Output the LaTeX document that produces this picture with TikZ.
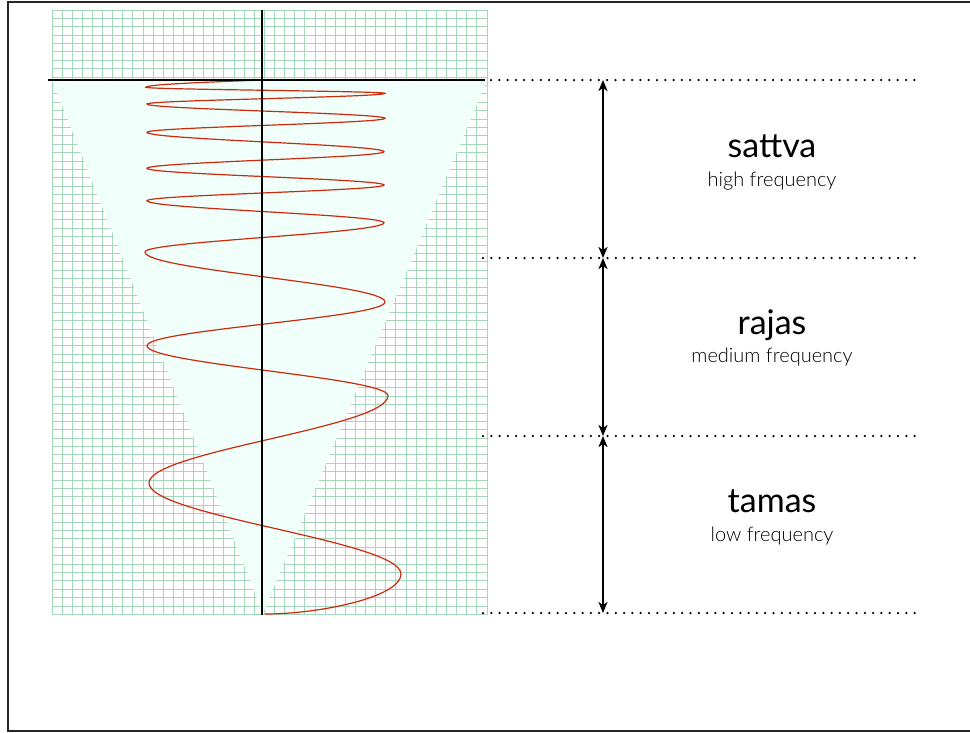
\documentclass[tikz,border=0pt]{standalone}
\usepackage{fontspec}
\setmainfont{Lato}
\IfFontExistsTF{Lato Light}{\newfontfamily\thinfont{Lato Light}}{\newfontfamily\thinfont{Lato}}
\usetikzlibrary{arrows.meta}
\definecolor{gridgreen}{RGB}{164,216,186}
\definecolor{conefill}{RGB}{240,255,250}
\definecolor{wavered}{RGB}{204,42,12}
\tikzset{
  frameline/.style={line width=1.3pt, draw=black!85},
  gridline/.style={line width=1pt, draw=gridgreen},
  axisline/.style={line width=2pt, draw=black},
  waveline/.style={line width=1.2pt, draw=wavered},
  guide/.style={line width=2.5pt, dash pattern=on 0pt off 8.3pt, line cap=round},
  span/.style={line width=2pt, {Stealth[length=11pt,width=9pt,inset=3pt]}-{Stealth[length=11pt,width=9pt,inset=3pt]}},
  title/.style={font=\fontsize{34}{36}\selectfont, anchor=base},
  subtitle/.style={font=\thinfont\fontsize{20}{22}\selectfont, anchor=base, text=black},
}
\begin{document}
\begin{tikzpicture}[x=1pt,y=-1pt]
\useasboundingbox (0,0) rectangle (970,732);
% page frame
\draw[frameline] (970,2) -- (8,2) -- (8,731) -- (970,731);

% graph paper: 43 columns by 72 rows
\foreach \i in {0,...,43}
  \draw[gridline] ({52+\i*10.11628},10) -- ({52+\i*10.11628},614.5);
\foreach \j in {0,...,72}
  \draw[gridline] (52,{10+\j*8.39583}) -- (487,{10+\j*8.39583});

% cone below the axis
\fill[conefill] (52,80) -- (487,80) -- (263,613) -- cycle;

% chirped wave: frequency falls with depth
\draw[waveline] (262,80) .. controls (202.6,82.3) and (146,84.5) .. (146,87.3)
  \foreach \xa/\ya/\xb/\yb in {
      146/87.3/385/93.3, 385/93.3/147/104, 147/104/385/118.3,
      385/118.3/147/132.3, 147/132.3/384/151.7, 384/151.7/147/168.3,
      147/168.3/384/185, 384/185/147/200.7, 147/200.7/384/222.7,
      384/222.7/145/252, 145/252/385/302, 385/302/147/345.7,
      147/345.7/388/395.7, 388/395.7/149/483, 149/483/401/574}
    { .. controls (\xa,{\ya+0.3634*(\yb-\ya)}) and (\xb,{\yb-0.3634*(\yb-\ya)}) .. (\xb,\yb) }
  .. controls (401,597) and (320,614) .. (265,614);

% axes
\draw[axisline] (48,80) -- (485,80);
\draw[axisline] (262,10) -- (262,615);

% band boundaries
\coordinate (g0a) at (491,80);  \coordinate (g0b) at (920,80);
\coordinate (g1a) at (483,258); \coordinate (g1b) at (920,258);
\coordinate (g2a) at (483,436); \coordinate (g2b) at (920,436);
\coordinate (g3a) at (483,613); \coordinate (g3b) at (920,613);
\draw[guide] (g0a) -- (g0b);
\draw[guide] (g1a) -- (g1b);
\draw[guide] (g2a) -- (g2b);
\draw[guide] (g3a) -- (g3b);

% band extents
\coordinate (s0) at (603,80);
\coordinate (s1) at (603,258);
\coordinate (s2) at (603,436);
\coordinate (s3) at (603,613);
\draw[span] (s0) -- (s1);
\draw[span] (s1) -- (s2);
\draw[span] (s2) -- (s3);

% band labels
\node[title] (sattva) at (772,157) {sattva};
\node[subtitle] (sattvaf) at (772,186) {high frequency};
\node[title] (rajas) at (772,334) {rajas};
\node[subtitle] (rajasf) at (772,362) {medium frequency};
\node[title] (tamas) at (772,512) {tamas};
\node[subtitle] (tamasf) at (772,541) {low frequency};
\end{tikzpicture}
\end{document}
